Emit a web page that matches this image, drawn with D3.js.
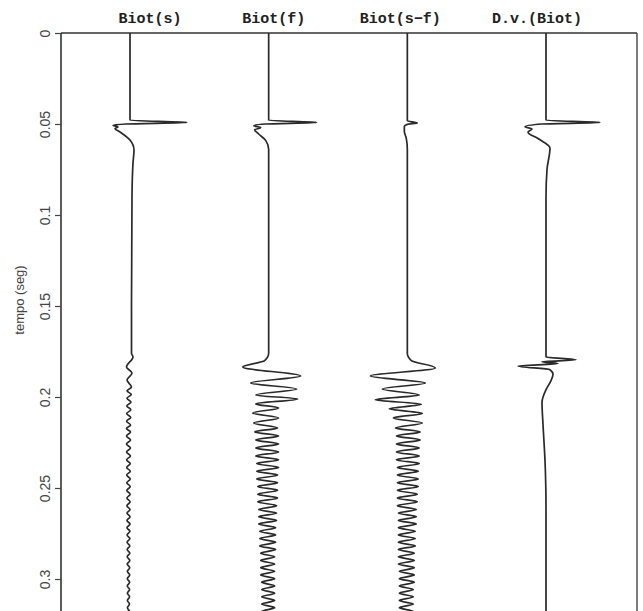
<!DOCTYPE html>
<html>
<head>
<meta charset="utf-8">
<script src="https://cdn.jsdelivr.net/npm/d3@7"></script>
<style>
body { margin: 0; background: #fff; }
</style>
</head>
<body>
<svg id="chart" width="643" height="611"></svg>
<script>
// trace names, left to right
var traceNames = ["Biot(s)", "Biot(f)", "Biot(s\u2212f)", "D.v.(Biot)"];

// time ticks (seconds)
var timeTicks = [0, 0.05, 0.1, 0.15, 0.2, 0.25, 0.3];

// first part of each trace: [time (ms), amplitude]
var headS = [[0, 0], [48.0, 0], [49.2, 57], [50.0, -4], [50.7, -17], [51.6, -12], [52.5, -15], [54.4, -10],
    [58.8, 0], [64.3, 4], [71.4, 3], [90, 2], [150, 1.5], [176, 1.5], [178, 3], [183.5, -3.5], [186.8, 2],
    [190.7, -3], [194.5, 1.5], [196.6, -3], [198.6, 1.2], [200.7, -3], [202.8, 1], [204.9, -3.2], [207.0, 0.8],
    [209.1, -3.3], [211.2, 0.7], [213.3, -3.4], [215.4, 0.6], [217.3, -3.5]];

var headF = [[0, 0], [48.0, 0], [49.2, 48], [50.0, -3], [50.9, -15], [52.0, -8], [53.2, -14], [55.5, -10],
    [59, -3], [64, 0], [176, 0], [180, -4], [183.5, -26], [188.5, 32], [192.3, -18], [195.6, 28], [198.9, -13],
    [201.1, 29], [203.8, -13], [206.0, 10], [208.8, -16], [211.5, 10], [214.3, -15], [217.0, 9]];

var headSF = [[0, 0], [48.2, 0], [49.4, 10], [50.2, 0], [51.4, -3], [54, -3], [58, -1], [64, 0], [176, 0],
    [180, 4], [184.0, 28], [188.5, -37], [192.3, 18], [195.6, -25], [198.9, 12], [201.5, -32], [204.0, 14],
    [206.5, -18], [209.0, 15], [211.5, -14], [214.3, 15], [217.0, -12]];

var traceDV = [[0, 0], [48.0, 0], [49.2, 54], [50.0, -4], [51.5, -21], [52.7, -14], [54.5, -18], [58, -8],
    [63.2, 4], [75, 1], [90, 0], [178.0, 0], [179.6, 30], [180.6, -4], [181.6, 12], [183.0, -28], [185.0, 4],
    [187.5, 7], [191, 5], [196, 0], [203, -4], [215, -3], [235, -1], [260, 0], [330, 0]];

// late wave train: extrema instants (ms) and amplitudes
var waveTimes = [219.2, 221.4, 223.6, 225.8, 228.0, 230.2, 232.4, 234.5, 236.6, 238.7,
    240.8, 242.9, 245.0, 247.1, 249.2, 251.3, 253.4, 255.5, 257.6, 259.7,
    261.8, 263.8, 265.8, 267.8, 269.8, 271.8, 273.8, 275.8, 277.8, 279.8,
    281.8, 283.8, 285.8, 287.8, 289.8, 291.8, 293.8, 295.8, 297.8, 299.8,
    301.8, 303.8, 305.8, 307.8, 309.8, 311.8, 313.8, 315.8, 317.8, 319.8];

var waveS = [0.5, -3.5, 0.5, -3.5, 0.4, -3.4, 0.4, -3.4, 0.3, -3.3,
    0.3, -3.3, 0.2, -3.2, 0.2, -3.2, 0.1, -3.1, 0.1, -3.1,
    0, -3, 0, -3, 0, -3, -0.1, -2.9, -0.1, -2.9,
    -0.2, -2.8, -0.2, -2.8, -0.2, -2.8, -0.3, -2.7, -0.3, -2.7,
    -0.4, -2.7, -0.4, -2.6, -0.4, -2.6, -0.5, -2.6, -0.5, -2.5];

var waveF = [-14, 10, -13, 10, -13, 10, -13, 10, -12, 10,
    -12, 9, -12, 9, -11, 9, -11, 9, -11, 8,
    -10, 8, -10, 8, -10, 7, -9, 7, -9, 7,
    -9, 7, -8, 6, -8, 6, -8, 6, -8, 6,
    -7, 6, -7, 6, -7, 6, -7, 6, -7, 6];

var waveSF = [13, -11, 13, -11, 12, -11, 12, -11, 12, -10,
    11, -10, 11, -10, 11, -10, 10, -10, 10, -10,
    9, -9, 9, -9, 9, -9, 8, -9, 8, -9,
    8, -9, 7, -9, 7, -9, 7, -8, 7, -8,
    7, -8, 6, -8, 6, -8, 6, -8, 6, -8];

// title offsets from trace position (layout)
var titleDx = [20, 5, -7, -9];

var traces = [
    headS.concat(d3.zip(waveTimes, waveS)),
    headF.concat(d3.zip(waveTimes, waveF)),
    headSF.concat(d3.zip(waveTimes, waveSF)),
    traceDV
];

var svg = d3.select("#chart");
var plotLeft = 61, plotRight = 637, plotTop = 33, plotBottom = 611;

var y = d3.scaleLinear().domain([0, 320]).range([plotTop, plotTop + 320 * 1.82]);
var x = d3.scalePoint().domain(traceNames).range([130, 546]);
var amp = d3.scaleLinear().domain([-60, 60]).range([-60, 60]);

// frame
svg.append("line").attr("x1", plotLeft).attr("x2", plotRight).attr("y1", plotTop).attr("y2", plotTop)
    .attr("stroke", "#333").attr("stroke-width", 1.6);
svg.append("line").attr("x1", plotLeft).attr("x2", plotLeft).attr("y1", plotTop).attr("y2", plotBottom)
    .attr("stroke", "#333").attr("stroke-width", 1.6);
svg.append("line").attr("x1", plotRight).attr("x2", plotRight).attr("y1", plotTop).attr("y2", plotBottom)
    .attr("stroke", "#444").attr("stroke-width", 1.4);

// time axis
var axis = svg.append("g")
    .attr("transform", "translate(" + plotLeft + ",0)")
    .call(d3.axisLeft(y)
        .tickValues(timeTicks.map(function (s) { return s * 1000; }))
        .tickFormat(function (d) { return d / 1000; })
        .tickSize(6)
        .tickSizeOuter(0));
axis.select(".domain").remove();
axis.selectAll(".tick line").attr("stroke", "#444").attr("stroke-width", 1.2);
axis.selectAll(".tick text")
    .attr("transform", "rotate(-90)")
    .attr("x", 0)
    .attr("y", -11)
    .attr("dy", 0)
    .attr("text-anchor", "middle")
    .attr("fill", "#444")
    .style("font-family", "'Liberation Sans', Arial, sans-serif")
    .style("font-size", "14px");

svg.append("text")
    .attr("transform", "translate(24,300) rotate(-90)")
    .attr("text-anchor", "middle")
    .attr("fill", "#444")
    .style("font-family", "'Liberation Sans', Arial, sans-serif")
    .style("font-size", "13px")
    .text("tempo (seg)");

// titles
svg.selectAll(".title")
    .data(traceNames)
    .enter().append("text")
    .attr("class", "title")
    .attr("x", function (d, i) { return x(d) + titleDx[i]; })
    .attr("y", 23)
    .attr("text-anchor", "middle")
    .attr("fill", "#222")
    .style("font-family", "'Liberation Mono', monospace")
    .style("font-weight", "bold")
    .style("font-size", "15px")
    .text(function (d) { return d; });

// traces: time runs down the page, so the spline is monotone in y
var line = d3.line()
    .x(function (d) { return amp(d[1]); })
    .y(function (d) { return y(d[0]); })
    .curve(d3.curveMonotoneY);

svg.selectAll(".trace")
    .data(traces)
    .enter().append("path")
    .attr("class", "trace")
    .attr("transform", function (d, i) { return "translate(" + x(traceNames[i]) + ",0)"; })
    .attr("d", line)
    .attr("fill", "none")
    .attr("stroke", "#2a2a2a")
    .attr("stroke-width", 1.7)
    .attr("stroke-linejoin", "round");
</script>
</body>
</html>
